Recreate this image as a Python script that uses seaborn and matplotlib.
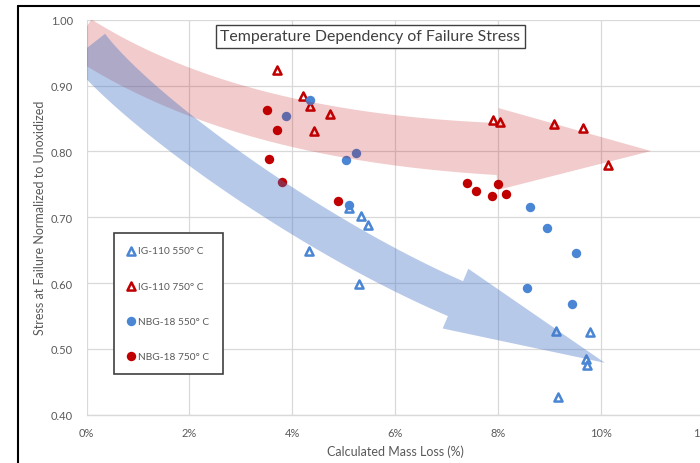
import numpy as np
import pandas as pd
import matplotlib
matplotlib.use("Agg")
import matplotlib.pyplot as plt
import seaborn as sns
from matplotlib.patches import Polygon
from matplotlib.lines import Line2D
from matplotlib.ticker import FuncFormatter

# ---- measured data: calculated mass loss (%) vs normalized failure stress ----
ig110_550_loss = [5.11, 5.34, 5.47, 4.32, 5.30, 9.14, 9.79, 9.71, 9.74, 9.16]
ig110_550_stress = [0.714, 0.702, 0.688, 0.648, 0.598, 0.527, 0.526, 0.484, 0.475, 0.427]

ig110_750_loss = [3.70, 4.21, 4.34, 4.73, 4.43, 7.90, 8.04, 9.09, 9.66, 10.14]
ig110_750_stress = [0.923, 0.884, 0.869, 0.857, 0.831, 0.848, 0.845, 0.842, 0.836, 0.780]

nbg18_550_loss = [3.88, 4.34, 5.04, 5.23, 5.11, 8.62, 8.95, 9.51, 8.56, 9.45]
nbg18_550_stress = [0.854, 0.878, 0.787, 0.798, 0.719, 0.716, 0.684, 0.645, 0.593, 0.568]

nbg18_750_loss = [3.50, 3.70, 3.55, 3.79, 4.88, 7.39, 7.57, 8.00, 7.89, 8.15]
nbg18_750_stress = [0.863, 0.832, 0.788, 0.754, 0.724, 0.752, 0.740, 0.750, 0.732, 0.735]

series_labels = ["IG-110 550\u00b0 C", "IG-110 750\u00b0 C", "NBG-18 550\u00b0 C", "NBG-18 750\u00b0 C"]

x_ticks = [0, 2, 4, 6, 8, 10, 12]
y_ticks = [0.40, 0.50, 0.60, 0.70, 0.80, 0.90, 1.00]

title_text = "Temperature Dependency of Failure Stress"
x_title = "Calculated Mass Loss (%)"
y_title = "Stress at Failure Normalized to Unoxidized"

BLUE = "#4A86D4"
RED = "#C00000"
TEXT = "#595959"
GRID = "#D9D9D9"

sns.set_theme(style="white")
plt.rcParams["font.family"] = ["Lato", "DejaVu Sans"]

fig = plt.figure(figsize=(7.0, 4.64), dpi=100)
W, H = 700.0, 464.0
# plot area: 0% at x=86.7 px, 12% at x=703.5 px, 1.00 at y=20.7 px, 0.40 at y=415.7 px
ax = fig.add_axes([86.7 / W, (H - 415.7) / H, (703.5 - 86.7) / W, (415.7 - 20.7) / H])
ax.set_xlim(0, 12)
ax.set_ylim(0.40, 1.00)

frames = []
for loss, stress, label in [
    (ig110_550_loss, ig110_550_stress, series_labels[0]),
    (ig110_750_loss, ig110_750_stress, series_labels[1]),
    (nbg18_550_loss, nbg18_550_stress, series_labels[2]),
    (nbg18_750_loss, nbg18_750_stress, series_labels[3]),
]:
    frames.append(pd.DataFrame({"loss": loss, "stress": stress, "series": label}))
df = pd.concat(frames, ignore_index=True)

style = {
    series_labels[0]: dict(marker="^", color="white", edgecolor=BLUE, linewidth=1.8, s=34),
    series_labels[1]: dict(marker="^", color="white", edgecolor=RED, linewidth=1.8, s=34),
    series_labels[2]: dict(marker="o", color=BLUE, edgecolor=BLUE, linewidth=0, s=46),
    series_labels[3]: dict(marker="o", color=RED, edgecolor=RED, linewidth=0, s=46),
}
for label in series_labels:
    sub = df[df["series"] == label]
    sns.scatterplot(data=sub, x="loss", y="stress", ax=ax, label=label, zorder=3, **style[label])

# axes styling
ax.set_xticks(x_ticks)
ax.set_yticks(y_ticks)
ax.xaxis.set_major_formatter(FuncFormatter(lambda v, p: f"{v:.0f}%"))
ax.yaxis.set_major_formatter(FuncFormatter(lambda v, p: f"{v:.2f}"))
ax.tick_params(axis="both", length=0, labelsize=8, labelcolor=TEXT)
ax.tick_params(axis="y", pad=10)
ax.tick_params(axis="x", pad=9)
ax.grid(True, color=GRID, linewidth=0.9)
ax.set_axisbelow(True)
for side in ["top", "right", "left"]:
    ax.spines[side].set_visible(False)
ax.spines["bottom"].set_color(GRID)
ax.spines["bottom"].set_linewidth(1.0)

ax.set_xlabel(x_title, fontsize=9, color=TEXT)
ax.set_ylabel(y_title, fontsize=9, color=TEXT)
ax.xaxis.set_label_coords(0.5, -0.075)
ax.yaxis.set_label_coords(-0.0757, 0.5)
ax.yaxis.label.set_va("center")


def curved_arrow(ax, ctrl, w0, w1, tip, head_w, color, alpha, z):
    """Filled arrow along a cubic Bezier (data coords); widths in pixels."""
    P = ax.transData.transform(np.asarray(ctrl))
    T = ax.transData.transform(np.asarray(tip))
    t = np.linspace(0, 1, 120)[:, None]
    B = ((1 - t) ** 3) * P[0] + 3 * ((1 - t) ** 2) * t * P[1] + 3 * (1 - t) * t ** 2 * P[2] + t ** 3 * P[3]
    D = 3 * ((1 - t) ** 2) * (P[1] - P[0]) + 6 * (1 - t) * t * (P[2] - P[1]) + 3 * t ** 2 * (P[3] - P[2])
    D = D / np.linalg.norm(D, axis=1, keepdims=True)
    N = np.column_stack([-D[:, 1], D[:, 0]])
    w = (w0 + (w1 - w0) * t) / 2.0
    left = B + N * w
    right = B - N * w
    hd = (T - B[-1]) / np.linalg.norm(T - B[-1])
    hn = np.array([-hd[1], hd[0]])
    base_l = B[-1] + hn * head_w / 2
    base_r = B[-1] - hn * head_w / 2
    pts = np.vstack([left, base_l, T, base_r, right[::-1]])
    pts = ax.transData.inverted().transform(pts)
    ax.add_patch(Polygon(pts, closed=True, facecolor=color, edgecolor="none", alpha=alpha, zorder=z))


# trend arrows
curved_arrow(ax, [(-0.130, 0.9737), (1.854, 0.8734), (4.502, 0.8172), (8.002, 0.8035)],
             42, 52, (10.979, 0.8005), 82, RED, 0.20, 4)
curved_arrow(ax, [(0.02, 0.958), (0.98, 0.862), (4.257, 0.6751), (7.175, 0.5763)],
             44, 38, (10.082, 0.4787), 65, "#4472C4", 0.38, 5)

# legend
leg = ax.legend(loc="upper left", bbox_to_anchor=((114 - 86.7) / 616.8, (415.7 - 234) / 395.0),
                bbox_transform=ax.transAxes, borderaxespad=0, fontsize=7.3, frameon=True,
                fancybox=False, framealpha=1, edgecolor="#404040", borderpad=1.3,
                labelspacing=2.58, handlelength=0.85, handletextpad=0.25)
leg.get_frame().set_linewidth(1.2)
for txt in leg.get_texts():
    txt.set_color(TEXT)
leg.set_zorder(10)

# chart title in a boxed label
fig.text(370.5 / W, 1 - 37.5 / H, title_text, ha="center", va="center", fontsize=11.4, color="#404040",
         bbox=dict(boxstyle="square,pad=0.3", facecolor="white", edgecolor="#404040", linewidth=1.0),
         zorder=10)

# outer chart frame
fig.add_artist(Line2D([18.3 / W, 18.3 / W], [0, 1 - 7.3 / H], color="black", linewidth=1.5))
fig.add_artist(Line2D([18.3 / W, 1.0], [1 - 7.3 / H, 1 - 7.3 / H], color="black", linewidth=1.5))

fig.savefig("out.png", dpi=100)
